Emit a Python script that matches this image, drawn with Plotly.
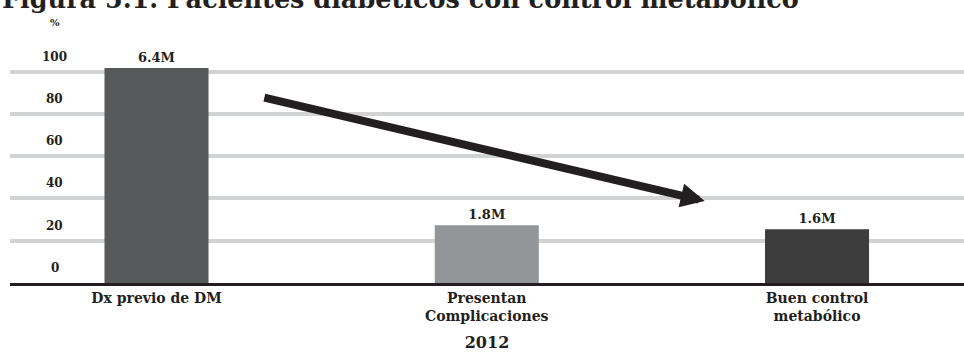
import plotly.graph_objects as go

categories = ["Dx previo de DM", "Presentan<br>Complicaciones", "Buen control<br>metabólico"]
values = [101.7, 27.3, 25.4]
value_labels = ["6.4M", "1.8M", "1.6M"]
bar_colors = ["#58595b", "#939598", "#3d3d3e"]
y_ticks = [0, 20, 40, 60, 80, 100]
year_label = "2012"
title_text = "Figura 5.1. Pacientes diabéticos con control metabólico"

FONT = "DejaVu Serif"
TXT = "#231f20"

fig = go.Figure()
fig.add_trace(go.Bar(
    x=[0, 1, 2], y=values, width=0.315,
    marker=dict(color=bar_colors, line=dict(width=0)),
    text=value_labels, textposition="outside", cliponaxis=False,
    textfont=dict(family=FONT, size=13, color=TXT),
    texttemplate="<b>%{text}</b>",
))

annotations = []
for t in y_ticks:
    annotations.append(dict(
        x=0.047, xref="paper", y=t, yref="y", yshift=15,
        text=f"<b>{t}</b>", showarrow=False,
        font=dict(family=FONT, size=12, color=TXT),
        xanchor="center", yanchor="middle",
    ))
annotations.append(dict(
    x=0.047, xref="paper", y=1, yref="paper", yshift=10,
    text="<b>%</b>", showarrow=False,
    font=dict(family=FONT, size=10, color=TXT),
    xanchor="center", yanchor="bottom",
))
annotations.append(dict(
    x=0, xref="paper", xshift=-10, y=1, yref="paper", yshift=24,
    text=f"<b>{title_text}</b>", showarrow=False,
    font=dict(family=FONT, size=25.5, color=TXT),
    xanchor="left", yanchor="bottom",
))
# trend arrow
annotations.append(dict(
    x=1.66, y=38.8, xref="x", yref="y",
    ax=0.322, ay=87.9, axref="x", ayref="y",
    showarrow=True, arrowhead=2, arrowsize=0.6, arrowwidth=8,
    arrowcolor="#231f20", text="",
))

fig.update_layout(
    width=964, height=356,
    margin=dict(l=10, r=0, t=40, b=73),
    plot_bgcolor="white", paper_bgcolor="white",
    showlegend=False,
    annotations=annotations,
    xaxis=dict(
        range=[-0.4436, 2.445],
        tickvals=[0, 1, 2], ticktext=[f"<b>{c}</b>" for c in categories],
        tickfont=dict(family=FONT, size=14, color=TXT),
        showgrid=False, zeroline=False,
        showline=True, linecolor="#231f20", linewidth=3,
        ticks="", ticklabelstandoff=0,
        title=dict(text=f"<b>{year_label}</b>", font=dict(family=FONT, size=16, color=TXT), standoff=14),
    ),
    yaxis=dict(
        range=[0, 115],
        tickvals=y_ticks[1:], showticklabels=False,
        showgrid=True, gridcolor="#d1d3d4", gridwidth=4,
        zeroline=False, showline=False, ticks="",
    ),
)

fig.write_html("out.html")
